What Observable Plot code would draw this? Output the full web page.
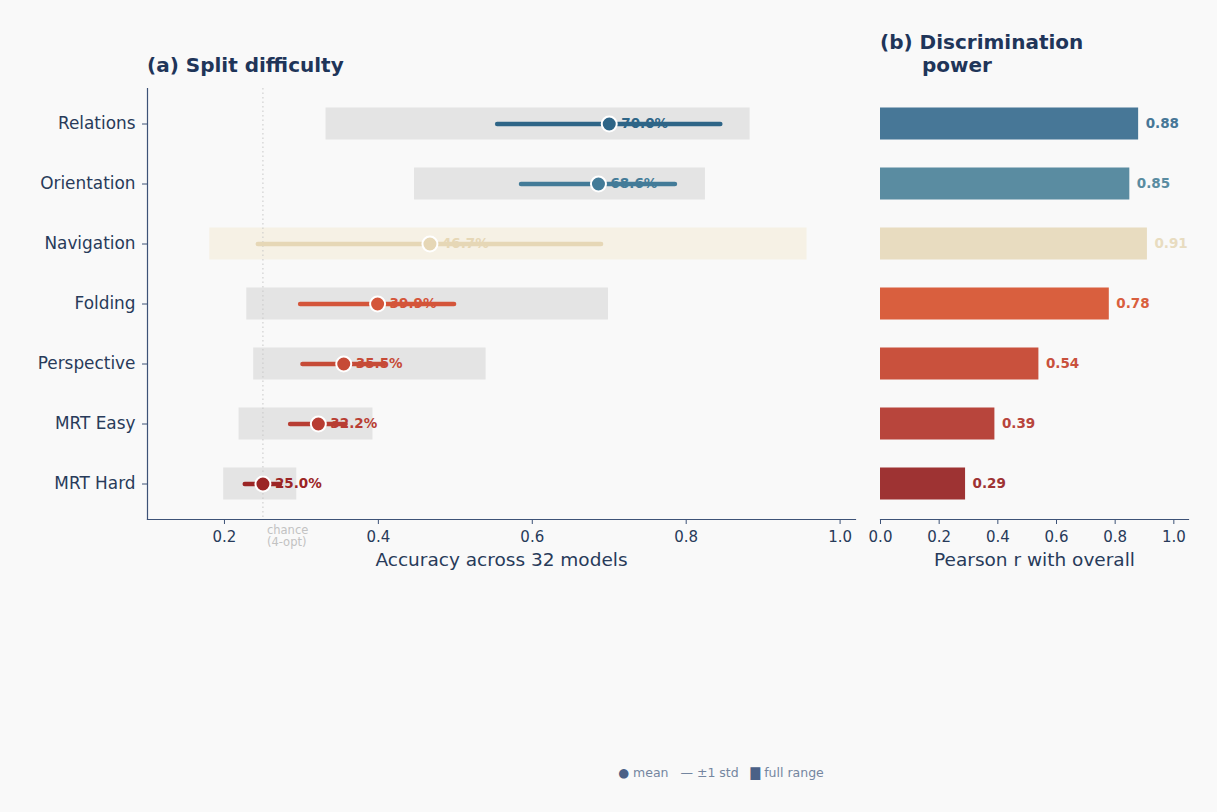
<!DOCTYPE html>
<html>
<head>
<meta charset="utf-8">
<script src="https://cdn.jsdelivr.net/npm/d3@7"></script>
<script src="https://cdn.jsdelivr.net/npm/@observablehq/plot@0.6"></script>
<style>
  html, body { margin: 0; padding: 0; background: #f9f9f9; }
  #fig { position: relative; width: 1217px; height: 812px; background: #f9f9f9; overflow: hidden;
         font-family: "DejaVu Sans", sans-serif; }
  .panel { position: absolute; top: 0; }
  .title { position: absolute; font-weight: bold; font-size: 20px; line-height: 23px; color: #1f3559; white-space: pre; }
  #legend { position: absolute; left: 521px; width: 400px; top: 765px; text-align: center;
            font-size: 12.5px; color: #7486a0; white-space: pre; }
  #legend .m { color: #4b6187; }
</style>
</head>
<body>
<div id="fig">
  <div class="title" id="ta" style="left:147px; top:54px;">(a) Split difficulty</div>
  <div class="title" id="tb" style="left:880px; top:31px;">(b) Discrimination<br><span style="padding-left:42px">power</span></div>
  <div class="panel" id="left" style="left:0px;"></div>
  <div class="panel" id="right" style="left:860px;"></div>
  <div id="legend"><span class="m">●</span> mean   <span>—</span> ±1 std   <span class="m">▇</span> full range</div>
</div>
<script>
// Benchmark splits, top to bottom
const splits = ["Relations", "Orientation", "Navigation", "Folding", "Perspective", "MRT Easy", "MRT Hard"];
// Accuracy across models: mean, standard deviation, min and max
const means = [0.700, 0.686, 0.467, 0.399, 0.355, 0.322, 0.250];
const stds  = [0.145, 0.100, 0.223, 0.100, 0.053, 0.036, 0.023];
const mins  = [0.332, 0.447, 0.181, 0.229, 0.238, 0.219, 0.199];
const maxs  = [0.883, 0.825, 0.957, 0.699, 0.540, 0.393, 0.294];
// Pearson correlation of each split with the overall score
const pearson = [0.88, 0.85, 0.91, 0.78, 0.54, 0.39, 0.29];
const nModels = 32;
const chance = 0.25;
const accTicks = [0.2, 0.4, 0.6, 0.8, 1.0];
const corrTicks = [0.0, 0.2, 0.4, 0.6, 0.8, 1.0];

// Palette per split
const markColor = {
  "Relations": "#2e6587", "Orientation": "#437b98", "Navigation": "#e6d7b6",
  "Folding": "#d4553a", "Perspective": "#c64b37", "MRT Easy": "#b83d33", "MRT Hard": "#9b2525"
};
const barColor = {
  "Relations": "#477797", "Orientation": "#5a8ca1", "Navigation": "#e8dcc0",
  "Folding": "#d95f3e", "Perspective": "#c9513d", "MRT Easy": "#b8453c", "MRT Hard": "#9e3333"
};
const rangeFill = s => s === "Navigation" ? "#f6f1e5" : "#e4e4e4";

const ink = "#283b5a";
const spine = "#3d5277";

const rows = splits.map((s, i) => ({
  split: s, mean: means[i], std: stds[i], min: mins[i], max: maxs[i], r: pearson[i]
}));

const common = {
  height: 600,
  marginTop: 88,
  marginBottom: 81,
  style: { background: "transparent", fontFamily: "DejaVu Sans, sans-serif", color: ink, overflow: "visible" },
  y: { type: "band", domain: splits, padding: 0.183 },
  color: { type: "identity" }
};

// (a) accuracy ranges per split
const left = Plot.plot({
  ...common,
  width: 868,
  marginLeft: 147,
  marginRight: 13,
  x: { domain: [0.1, 1.02] },
  marks: [
    Plot.barX(rows, { x1: "min", x2: "max", y: "split", fill: d => rangeFill(d.split), insetTop: 8.5, insetBottom: 8.5 }),
    Plot.ruleX([chance], { stroke: "#c8c8c8", strokeWidth: 1, strokeDasharray: "1.5,3" }),
    Plot.text([chance], { x: d => d, frameAnchor: "bottom", text: () => "chance\n(4-opt)", textAnchor: "start",
      lineAnchor: "top", dx: 4, dy: 6, fontSize: 11.5, fill: "#c2c2c2", lineHeight: 1.05 }),
    Plot.text(rows, { x: "mean", y: "split", text: d => (d.mean * 100).toFixed(1) + "%", textAnchor: "start",
      dx: 12, fontSize: 13.5, fontWeight: "bold", fill: d => markColor[d.split] }),
    Plot.ruleY(rows, { y: "split", x1: d => d.mean - d.std, x2: d => d.mean + d.std,
      stroke: d => markColor[d.split], strokeWidth: 4.5, strokeLinecap: "round" }),
    Plot.dot(rows, { x: "mean", y: "split", r: 7.5, fill: d => markColor[d.split], stroke: "white", strokeWidth: 2 }),
    Plot.frame({ anchor: "left", stroke: spine, strokeWidth: 1.2 }),
    Plot.frame({ anchor: "bottom", stroke: spine, strokeWidth: 1.2 }),
    Plot.axisY({ tickSize: 5, tickPadding: 7, fontSize: 16.9, label: null, stroke: spine, color: ink }),
    Plot.axisX({ ticks: accTicks, tickFormat: d3.format(".1f"), tickSize: 5, tickPadding: 7, fontSize: 15,
      label: null, stroke: spine, color: ink }),
    Plot.text([`Accuracy across ${nModels} models`], { frameAnchor: "bottom", dy: 46, fontSize: 18.5, fill: ink })
  ]
});
document.getElementById("left").appendChild(left);

// (b) correlation with overall score
const right = Plot.plot({
  ...common,
  width: 350,
  marginLeft: 20,
  marginRight: 22,
  x: { domain: [0, 1.05] },
  marks: [
    Plot.barX(rows, { x: "r", y: "split", fill: d => barColor[d.split], insetTop: 8.5, insetBottom: 8.5 }),
    Plot.text(rows, { x: "r", y: "split", text: d => d.r.toFixed(2), textAnchor: "start", dx: 7,
      fontSize: 13.5, fontWeight: "bold", fill: d => barColor[d.split] }),
    Plot.frame({ anchor: "bottom", stroke: spine, strokeWidth: 1.2 }),
    Plot.axisY({ ticks: [], label: null, tickSize: 0 }),
    Plot.axisX({ ticks: corrTicks, tickFormat: d3.format(".1f"), tickSize: 5, tickPadding: 7, fontSize: 15,
      label: null, stroke: spine, color: ink }),
    Plot.text(["Pearson r with overall"], { frameAnchor: "bottom", dy: 46, fontSize: 18.5, fill: ink })
  ]
});
document.getElementById("right").appendChild(right);
</script>
</body>
</html>
